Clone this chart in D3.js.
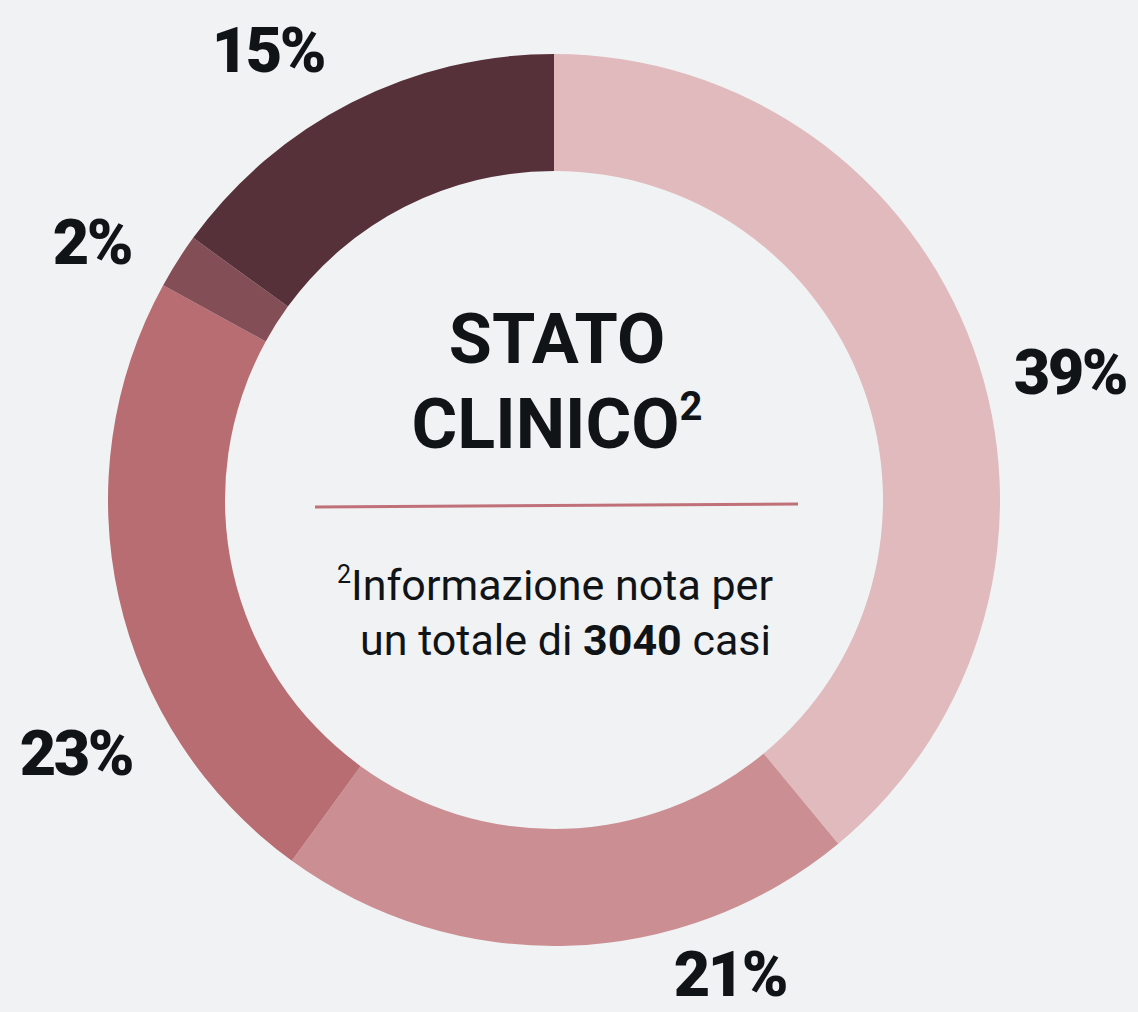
<!DOCTYPE html>
<html><head><meta charset="utf-8">
<script src="https://cdn.jsdelivr.net/npm/d3@7"></script>
<style>
html,body{margin:0;padding:0;background:#f1f2f4;}
svg{display:block;}
</style></head>
<body>
<svg id="chart" width="1138" height="1012"></svg>
<script>
const categories = ["A", "B", "C", "D", "E"];
const values = [39, 21, 23, 2, 15];
const labels = ["39%", "21%", "23%", "2%", "15%"];
const colors = ["#e0babd", "#cb8f93", "#b76d72", "#844e56", "#57313a"];
// label anchor offsets (px) relative to donut centre, text centred horizontally, y = baseline
const labelOffsets = [[516, -106], [176, 496], [-478, 275], [-462, -236], [-286, -428]];

const W = 1138, H = 1012;
const cx = 554, cy = 500, rOuter = 446, rInner = 329;
const svg = d3.select("#chart");
svg.append("rect").attr("width", W).attr("height", H).attr("fill", "#f1f2f4");

const g = svg.append("g").attr("transform", `translate(${cx},${cy})`);
const pie = d3.pie().sort(null).value(d => d)(values);
const arc = d3.arc().innerRadius(rInner).outerRadius(rOuter);
g.selectAll("path.slice").data(pie).join("path")
  .attr("class", "slice")
  .attr("d", arc)
  .attr("fill", (d, i) => colors[i]);

g.selectAll("text.lbl").data(pie).join("text")
  .attr("class", "lbl")
  .attr("x", (d, i) => labelOffsets[i][0])
  .attr("y", (d, i) => labelOffsets[i][1])
  .attr("text-anchor", "middle")
  .attr("font-family", "Roboto, sans-serif")
  .attr("font-weight", 900)
  .attr("font-size", 63)
  .attr("letter-spacing", -2.5)
  .attr("fill", "#111417")
  .text((d, i) => labels[i]);

// centre title
const title = svg.append("g").attr("font-family", "Roboto, sans-serif").attr("font-weight", 700).attr("fill", "#111417");
title.append("text").attr("x", 557).attr("y", 363).attr("text-anchor", "middle").attr("font-size", 70).text("STATO");
const t2 = title.append("text").attr("x", 557).attr("y", 448).attr("text-anchor", "middle").attr("font-size", 70);
t2.append("tspan").text("CLINICO");
t2.append("tspan").attr("font-size", 40).attr("dy", -28).text("2");

svg.append("line").attr("x1", 315).attr("y1", 507).attr("x2", 798).attr("y2", 504)
  .attr("stroke", "#c07079").attr("stroke-width", 3);

const note = svg.append("g").attr("font-family", "Roboto, sans-serif").attr("font-weight", 400).attr("fill", "#111417").attr("font-size", 43);
const n1 = note.append("text").attr("x", 773).attr("y", 600).attr("text-anchor", "end");
n1.append("tspan").attr("font-size", 25).attr("dy", -17).text("2");
n1.append("tspan").attr("dy", 17).text("Informazione nota per");
const n2 = note.append("text").attr("x", 771).attr("y", 655).attr("text-anchor", "end");
n2.append("tspan").text("un totale di ");
n2.append("tspan").attr("font-weight", 700).text("3040");
n2.append("tspan").text(" casi");
</script>
</body></html>
